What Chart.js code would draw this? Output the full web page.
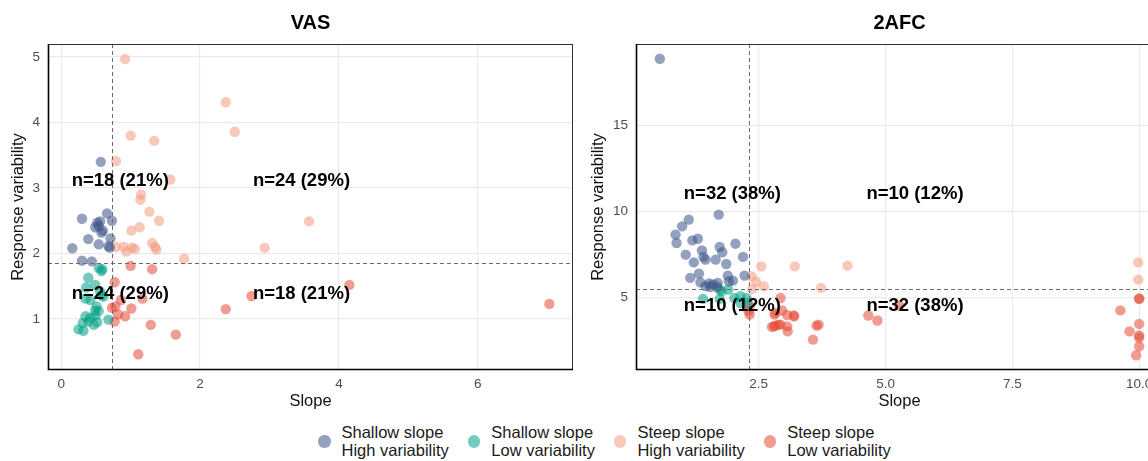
<!DOCTYPE html>
<html>
<head>
<meta charset="utf-8">
<script src="https://cdn.jsdelivr.net/npm/chart.js@4"></script>
<style>
  html, body { margin: 0; padding: 0; background: #fff; overflow: hidden; width: 1148px; height: 461px; }
  #wrap { position: relative; width: 1148px; height: 461px; }
  canvas { position: absolute; top: 0; }
  #vas { left: 0; }
  #afc { left: 580px; }
  #legend { position: absolute; left: 318px; top: 424px; display: flex; align-items: center;
            font-family: "Liberation Sans", Arial, sans-serif; font-size: 16.5px; line-height: 17.5px; color: #1a1a1a; }
  .item { display: flex; align-items: center; margin-right: 19px; }
  .dot { width: 12.5px; height: 12.5px; border-radius: 50%; margin-right: 11px; }
</style>
</head>
<body>
<div id="wrap">
  <canvas id="vas" width="580" height="415"></canvas>
  <canvas id="afc" width="590" height="415"></canvas>
  <div id="legend"></div>
</div>
<script>
let groupNames = [['Shallow slope', 'High variability'], ['Shallow slope', 'Low variability'],
                  ['Steep slope', 'High variability'], ['Steep slope', 'Low variability']];
let groupColors = ['#3C5488', '#00A087', '#F39B7F', '#E64B35'];
let pointAlpha = 0.55;

// VAS panel: [slope, response variability]
let vasShallowHigh = [[0.57,3.40],[0.30,2.53],[0.66,2.61],[0.73,2.50],[0.52,2.47],[0.56,2.49],[0.54,2.42],
  [0.60,2.35],[0.49,2.40],[0.58,2.32],[0.39,2.22],[0.54,2.14],[0.71,2.23],[0.68,2.11],[0.70,2.09],
  [0.16,2.08],[0.30,1.89],[0.44,1.88]];
let vasShallowLow = [[0.54,1.78],[0.58,1.73],[0.59,1.76],[0.39,1.63],[0.36,1.48],[0.49,1.52],[0.56,1.42],
  [0.35,1.31],[0.42,1.29],[0.61,1.34],[0.51,1.19],[0.49,1.13],[0.54,1.12],[0.35,1.04],[0.42,1.02],
  [0.49,1.05],[0.52,0.95],[0.31,0.94],[0.39,0.96],[0.47,0.91],[0.25,0.84],[0.32,0.82],[0.68,0.99],[0.58,1.36]];
let vasSteepHigh = [[0.92,4.97],[2.37,4.31],[2.50,3.86],[1.00,3.80],[1.34,3.72],[0.79,3.41],[1.57,3.13],
  [1.15,2.90],[1.14,2.82],[1.27,2.64],[1.41,2.50],[1.13,2.40],[1.01,2.35],[0.79,2.10],[0.90,2.10],
  [1.02,2.09],[0.94,2.03],[1.31,2.16],[1.35,2.10],[1.37,2.06],[1.77,1.92],[2.93,2.09],[3.57,2.49],[1.06,2.07]];
let vasSteepLow = [[1.00,1.81],[1.31,1.76],[0.77,1.56],[0.86,1.29],[0.73,1.17],[0.78,1.19],[0.82,1.07],
  [0.92,1.04],[1.01,1.16],[1.17,1.31],[0.77,0.96],[1.29,0.91],[1.65,0.76],[1.11,0.46],[2.37,1.15],
  [2.74,1.35],[4.15,1.52],[7.03,1.23]];

// 2AFC panel
let afcShallowHigh = [[0.55,18.88],[1.71,9.81],[1.12,9.52],[0.99,9.13],[0.86,8.65],[0.88,8.16],[1.19,8.31],
  [1.30,8.41],[2.04,8.12],[1.38,7.73],[1.73,7.93],[1.78,7.62],[1.06,7.48],[1.41,7.35],[1.45,7.19],
  [1.65,7.19],[2.19,7.35],[1.22,7.03],[1.86,6.94],[1.32,6.38],[1.15,6.13],[1.89,6.26],[2.22,6.26],
  [1.35,5.87],[1.52,5.80],[1.54,5.60],[1.69,5.84],[1.68,5.60],[1.91,5.93],[1.99,5.97],[1.45,5.65],[1.60,5.75]];
let afcShallowLow = [[1.40,4.91],[1.73,5.45],[1.77,5.35],[1.90,5.45],[1.73,4.91],[2.02,4.96],[2.14,4.67],
  [2.26,4.96],[2.28,4.67],[2.14,5.06]];
let afcSteepHigh = [[2.36,6.22],[2.55,6.80],[3.21,6.80],[4.25,6.84],[2.37,5.49],[2.60,5.64],[3.73,5.55],
  [9.98,7.03],[9.98,6.03],[2.45,5.90]];
let afcSteepLow = [[2.93,4.96],[2.32,4.48],[2.30,4.19],[2.32,3.99],[2.81,3.99],[2.83,4.09],[2.96,4.23],
  [3.06,3.97],[3.19,3.94],[3.20,3.90],[2.76,3.28],[2.80,3.31],[2.83,3.35],[2.89,3.41],[2.93,3.41],
  [3.06,3.31],[3.07,3.02],[3.57,2.54],[3.64,3.35],[3.68,3.41],[4.66,3.94],[4.84,3.65],[5.27,4.52],
  [9.63,4.24],[9.81,3.02],[10.0,4.91],[10.0,4.93],[10.0,3.45],[10.0,2.78],[10.0,2.66],[10.0,2.15],[9.94,1.63]];

let vasXRange = [-0.19, 7.37], vasYRange = [0.22, 5.2];
let afcXRange = [0.08, 10.47], afcYRange = [0.77, 19.74];
let vasXTicks = [0, 2, 4, 6], vasYTicks = [1, 2, 3, 4, 5];
let afcXTicks = [2.5, 5, 7.5, 10], afcYTicks = [5, 10, 15];

// cut-offs [slope, variability]
let vasCut = [0.73, 1.85];
let afcCut = [2.3, 5.5];

let vasCounts = ['n=18 (21%)', 'n=24 (29%)', 'n=24 (29%)', 'n=18 (21%)'];
let vasCountX = [0.85, 3.46, 0.85, 3.46], vasCountY = [3.11, 3.11, 1.39, 1.39];
let afcCounts = ['n=32 (38%)', 'n=10 (12%)', 'n=10 (12%)', 'n=32 (38%)'];
let afcCountX = [1.98, 5.58, 1.98, 5.58], afcCountY = [11.01, 11.01, 4.52, 4.52];

let FONT = '"Liberation Sans", Arial, sans-serif';

function rgba(hex, a) {
    let n = parseInt(hex.slice(1), 16);
    return 'rgba(' + (n >> 16) + ',' + ((n >> 8) & 255) + ',' + (n & 255) + ',' + a + ')';
}

let panelDecor = {
    id: 'panelDecor',
    afterDatasetsDraw: function(chart, args, opts) {
        let ctx = chart.ctx, a = chart.chartArea;
        let xs = chart.scales.x, ys = chart.scales.y;
        ctx.save();
        ctx.beginPath();
        ctx.rect(a.left, a.top, a.right - a.left, a.bottom - a.top);
        ctx.clip();
        ctx.strokeStyle = '#6b6b6b';
        ctx.lineWidth = 1;
        ctx.setLineDash([4, 3]);
        let cx = Math.round(xs.getPixelForValue(opts.cut[0])) + 0.5;
        let cy = Math.round(ys.getPixelForValue(opts.cut[1])) + 0.5;
        ctx.beginPath();
        ctx.moveTo(cx, a.top); ctx.lineTo(cx, a.bottom);
        ctx.moveTo(a.left, cy); ctx.lineTo(a.right, cy);
        ctx.stroke();
        ctx.setLineDash([]);
        ctx.fillStyle = '#000';
        ctx.font = 'bold 18.5px ' + FONT;
        ctx.textAlign = 'center';
        ctx.textBaseline = 'middle';
        opts.labels.forEach(function(t, i) {
            ctx.fillText(t, xs.getPixelForValue(opts.lx[i]), ys.getPixelForValue(opts.ly[i]));
        });
        ctx.restore();

        ctx.save();
        ctx.strokeStyle = '#333';
        ctx.lineWidth = 1;
        ctx.strokeRect(a.left + 0.5, a.top + 0.5, a.right - a.left - 1, a.bottom - a.top - 1);
        ctx.strokeStyle = '#000';
        ctx.lineWidth = 1.6;
        ctx.beginPath();
        ctx.moveTo(a.left + 0.5, a.top);
        ctx.lineTo(a.left + 0.5, a.bottom - 0.5);
        ctx.lineTo(a.right, a.bottom - 0.5);
        ctx.stroke();
        ctx.fillStyle = '#000';
        ctx.font = 'bold 20px ' + FONT;
        ctx.textAlign = 'center';
        ctx.textBaseline = 'middle';
        ctx.fillText(opts.title, (a.left + a.right) / 2, 23);
        ctx.restore();
    }
};

function makePanel(id, title, series, xRange, yRange, xTicks, yTicks, xFmt, cut, labels, lx, ly, yAxisWidth) {
    let ctx = document.getElementById(id).getContext('2d');
    return new Chart(ctx, {
        type: 'scatter',
        data: {
            datasets: series.map(function(s, i) {
                return {
                    label: groupNames[i].join(' '),
                    data: s.map(function(p) { return {x: p[0], y: p[1]}; }),
                    backgroundColor: rgba(groupColors[i], pointAlpha),
                    borderWidth: 0,
                    pointRadius: 5.2,
                    pointHoverRadius: 5.2
                };
            })
        },
        options: {
            responsive: false,
            animation: false,
            events: [],
            layout: { padding: { top: 44, left: 0, right: 7, bottom: 0 } },
            plugins: {
                legend: { display: false },
                tooltip: { enabled: false },
                panelDecor: { title: title, cut: cut, labels: labels, lx: lx, ly: ly }
            },
            scales: {
                x: {
                    type: 'linear',
                    min: xRange[0],
                    max: xRange[1],
                    afterBuildTicks: function(axis) { axis.ticks = xTicks.map(function(v) { return {value: v}; }); },
                    afterFit: function(axis) { axis.height = 45; },
                    grid: { color: '#ebebeb', lineWidth: 1.2, drawTicks: false },
                    border: { display: false },
                    ticks: {
                        padding: 6,
                        color: '#4d4d4d',
                        font: { family: FONT, size: 13.5 },
                        callback: function(value) { return xFmt(value); }
                    },
                    title: { display: true, text: 'Slope', color: '#111',
                             font: { family: FONT, size: 16.5 }, padding: { top: 0, bottom: 4 } }
                },
                y: {
                    type: 'linear',
                    min: yRange[0],
                    max: yRange[1],
                    afterBuildTicks: function(axis) { axis.ticks = yTicks.map(function(v) { return {value: v}; }); },
                    afterFit: function(axis) { axis.width = yAxisWidth; },
                    grid: { color: '#ebebeb', lineWidth: 1.2, drawTicks: false },
                    border: { display: false },
                    ticks: { padding: 8, color: '#4d4d4d', font: { family: FONT, size: 13.5 } },
                    title: { display: true, text: 'Response variability', color: '#111',
                             font: { family: FONT, size: 16.5 }, padding: { top: 9, bottom: 0 } }
                }
            }
        },
        plugins: [panelDecor]
    });
}

let vasChart = makePanel('vas', 'VAS', [vasShallowHigh, vasShallowLow, vasSteepHigh, vasSteepLow],
    vasXRange, vasYRange, vasXTicks, vasYTicks, function(v) { return String(v); },
    vasCut, vasCounts, vasCountX, vasCountY, 48);

let afcChart = makePanel('afc', '2AFC', [afcShallowHigh, afcShallowLow, afcSteepHigh, afcSteepLow],
    afcXRange, afcYRange, afcXTicks, afcYTicks, function(v) { return v.toFixed(1); },
    afcCut, afcCounts, afcCountX, afcCountY, 56);

let legend = document.getElementById('legend');
groupNames.forEach(function(lines, i) {
    let item = document.createElement('div');
    item.className = 'item';
    let dot = document.createElement('span');
    dot.className = 'dot';
    dot.style.background = rgba(groupColors[i], pointAlpha);
    let txt = document.createElement('div');
    txt.innerHTML = lines.join('<br>');
    item.appendChild(dot);
    item.appendChild(txt);
    legend.appendChild(item);
});
</script>
</body>
</html>
